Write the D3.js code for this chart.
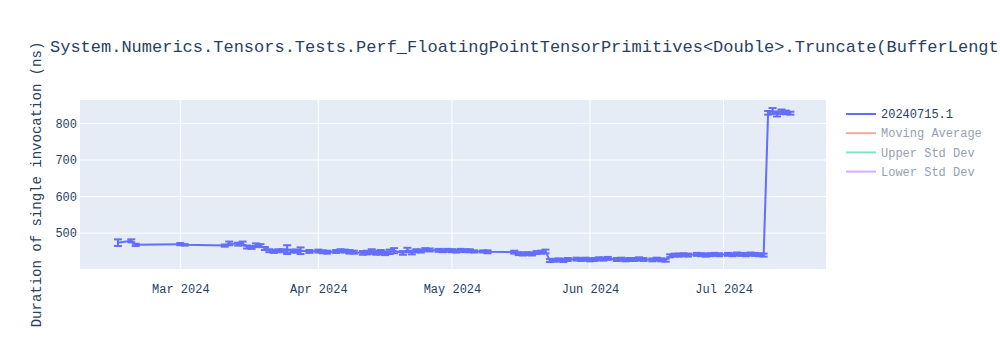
<!DOCTYPE html>
<html>
<head>
<meta charset="utf-8">
<script src="https://cdn.jsdelivr.net/npm/d3@7"></script>
<style>
  body { margin: 0; background: #fff; }
  svg text { font-family: "Courier New", "Liberation Mono", monospace; }
</style>
</head>
<body>
<svg id="chart"></svg>
<script>
"use strict";

// run dates and mean duration (ns), with std dev for the error bars
const dates = [
  "2024-02-16", "2024-02-19", "2024-02-20", "2024-03-01", "2024-03-02", "2024-03-11",
  "2024-03-12", "2024-03-14", "2024-03-15", "2024-03-16", "2024-03-17", "2024-03-18",
  "2024-03-19", "2024-03-20", "2024-03-21", "2024-03-22", "2024-03-23", "2024-03-24",
  "2024-03-25", "2024-03-26", "2024-03-27", "2024-03-28", "2024-03-30", "2024-04-01",
  "2024-04-02", "2024-04-03", "2024-04-05", "2024-04-06", "2024-04-07", "2024-04-08",
  "2024-04-09", "2024-04-11", "2024-04-12", "2024-04-13", "2024-04-14", "2024-04-15",
  "2024-04-16", "2024-04-17", "2024-04-18", "2024-04-20", "2024-04-21", "2024-04-22",
  "2024-04-23", "2024-04-24", "2024-04-25", "2024-04-26", "2024-04-28", "2024-04-29",
  "2024-04-30", "2024-05-01", "2024-05-02", "2024-05-03", "2024-05-04", "2024-05-05",
  "2024-05-06", "2024-05-08", "2024-05-09", "2024-05-15", "2024-05-16", "2024-05-17",
  "2024-05-18", "2024-05-19", "2024-05-20", "2024-05-21", "2024-05-22", "2024-05-23",
  "2024-05-24", "2024-05-25", "2024-05-26", "2024-05-27", "2024-05-29", "2024-05-30",
  "2024-05-31", "2024-06-01", "2024-06-02", "2024-06-03", "2024-06-04", "2024-06-05",
  "2024-06-07", "2024-06-08", "2024-06-09", "2024-06-10", "2024-06-11", "2024-06-12",
  "2024-06-13", "2024-06-15", "2024-06-16", "2024-06-17", "2024-06-18", "2024-06-19",
  "2024-06-20", "2024-06-21", "2024-06-22", "2024-06-23", "2024-06-25", "2024-06-26",
  "2024-06-27", "2024-06-28", "2024-06-29", "2024-06-30", "2024-07-02", "2024-07-03",
  "2024-07-04", "2024-07-05", "2024-07-06", "2024-07-07", "2024-07-08", "2024-07-09",
  "2024-07-10", "2024-07-11", "2024-07-12", "2024-07-13", "2024-07-14", "2024-07-15",
  "2024-07-16"
];
const durations = [
  474, 479, 468, 470, 468, 466,
  472, 470, 472, 462, 461, 467,
  466, 458, 452, 450, 452, 452,
  455, 451, 451, 452, 450, 451,
  449, 448, 450, 452, 451, 449,
  448, 446, 447, 450, 446, 448,
  445, 449, 452, 446, 454, 447,
  452, 451, 455, 454, 453, 452,
  453, 452, 451, 453, 452, 452,
  450, 450, 449, 448, 444, 443,
  444, 443, 447, 448, 450, 425,
  426, 427, 425, 428, 429, 428,
  429, 427, 428, 430, 429, 431,
  428, 429, 427, 428, 428, 430,
  428, 427, 429, 427, 426, 438,
  440, 440, 441, 440, 442, 441,
  440, 441, 442, 441, 442, 441,
  443, 442, 441, 443, 442, 441,
  440, 829, 834, 826, 832, 830,
  828
];
const stdDevs = [
  9, 4, 3, 3, 2, 3,
  5, 4, 5, 4, 4, 5,
  4, 4, 4, 4, 4, 4,
  12, 4, 4, 9, 4, 4,
  4, 4, 4, 4, 4, 5,
  4, 5, 5, 6, 5, 6,
  5, 6, 7, 5, 6, 5,
  4, 4, 4, 4, 4, 4,
  4, 4, 4, 4, 4, 4,
  3, 3, 4, 4, 4, 4,
  4, 4, 4, 4, 5, 4,
  4, 4, 4, 4, 4, 4,
  4, 4, 4, 4, 4, 4,
  4, 4, 4, 4, 4, 4,
  4, 4, 4, 4, 4, 4,
  4, 4, 4, 4, 4, 4,
  4, 4, 4, 4, 4, 4,
  4, 4, 4, 4, 4, 4,
  4, 5, 8, 7, 6, 5,
  4
];
const yTicks = [500, 600, 700, 800];
const legendNames = ["20240715.1", "Moving Average", "Upper Std Dev", "Lower Std Dev"];
const legendColors = ["#636efa", "#EF553B", "#00cc96", "#ab63fa"];
const legendVisible = [true, false, false, false];

const titleText =
  "System.Numerics.Tensors.Tests.Perf_FloatingPointTensorPrimitives<Double>.Truncate(BufferLength: 128)";

const parse = d3.utcParse("%Y-%m-%d");
const data = dates.map((d, i) => ({
  date: parse(d),
  value: durations[i],
  err: stdDevs[i],
}));

const width = 1000;
const height = 350;
const margin = { top: 100, right: 174, bottom: 81, left: 80 };
const innerW = width - margin.left - margin.right;
const innerH = height - margin.top - margin.bottom;

const x = d3
  .scaleUtc()
  .domain([new Date(Date.UTC(2024, 1, 7, 11, 30)), new Date(Date.UTC(2024, 6, 24))])
  .range([0, innerW]);

const y = d3.scaleLinear().domain([402, 864]).range([innerH, 0]);

const svg = d3
  .select("#chart")
  .attr("width", width)
  .attr("height", height)
  .attr("viewBox", [0, 0, width, height]);

svg
  .append("text")
  .attr("x", 50)
  .attr("y", 46)
  .attr("dy", "0.35em")
  .attr("font-size", 17)
  .attr("fill", "#2a3f5f")
  .text(titleText);

const main = svg
  .append("g")
  .attr("transform", `translate(${margin.left},${margin.top})`);

main
  .append("rect")
  .attr("width", innerW)
  .attr("height", innerH)
  .attr("fill", "#E5ECF6");

svg
  .append("defs")
  .append("clipPath")
  .attr("id", "clip")
  .append("rect")
  .attr("width", innerW)
  .attr("height", innerH);

// grid lines
const xTicks = x.ticks(d3.utcMonth.every(1));
main
  .append("g")
  .selectAll("line")
  .data(xTicks)
  .join("line")
  .attr("x1", (d) => x(d))
  .attr("x2", (d) => x(d))
  .attr("y1", 0)
  .attr("y2", innerH)
  .attr("stroke", "#fff")
  .attr("stroke-width", 1);

main
  .append("g")
  .selectAll("line")
  .data(yTicks)
  .join("line")
  .attr("x1", 0)
  .attr("x2", innerW)
  .attr("y1", (d) => y(d))
  .attr("y2", (d) => y(d))
  .attr("stroke", "#fff")
  .attr("stroke-width", 1);

// axes
const xAxis = main
  .append("g")
  .attr("transform", `translate(0,${innerH})`)
  .call(
    d3.axisBottom(x).tickValues(xTicks).tickFormat(d3.utcFormat("%b %Y")).tickSize(0).tickPadding(15)
  );
xAxis.select(".domain").remove();
xAxis.selectAll("text").attr("font-size", 12).attr("fill", "#2a3f5f").attr("font-family", null);

const yAxis = main
  .append("g")
  .call(d3.axisLeft(y).tickValues(yTicks).tickSize(0).tickPadding(3));
yAxis.select(".domain").remove();
yAxis.selectAll("text").attr("font-size", 12).attr("fill", "#2a3f5f").attr("font-family", null);

svg
  .append("text")
  .attr("transform", `translate(36,${margin.top + innerH / 2}) rotate(-90)`)
  .attr("text-anchor", "middle")
  .attr("dy", "0.35em")
  .attr("font-size", 14)
  .attr("fill", "#2a3f5f")
  .text("Duration of single invocation (ns)");

// series
const plot = main.append("g").attr("clip-path", "url(#clip)");
const color = legendColors[0];

const errs = plot.append("g").attr("stroke", color).attr("stroke-width", 2);
errs
  .selectAll("line.bar")
  .data(data)
  .join("line")
  .attr("class", "bar")
  .attr("x1", (d) => x(d.date))
  .attr("x2", (d) => x(d.date))
  .attr("y1", (d) => y(d.value - d.err))
  .attr("y2", (d) => y(d.value + d.err));
errs
  .selectAll("line.top")
  .data(data)
  .join("line")
  .attr("class", "top")
  .attr("x1", (d) => x(d.date) - 4)
  .attr("x2", (d) => x(d.date) + 4)
  .attr("y1", (d) => y(d.value + d.err))
  .attr("y2", (d) => y(d.value + d.err));
errs
  .selectAll("line.bottom")
  .data(data)
  .join("line")
  .attr("class", "bottom")
  .attr("x1", (d) => x(d.date) - 4)
  .attr("x2", (d) => x(d.date) + 4)
  .attr("y1", (d) => y(d.value - d.err))
  .attr("y2", (d) => y(d.value - d.err));

plot
  .append("path")
  .datum(data)
  .attr("fill", "none")
  .attr("stroke", color)
  .attr("stroke-width", 2)
  .attr("stroke-linejoin", "round")
  .attr("d", d3.line().x((d) => x(d.date)).y((d) => y(d.value)));

// legend
const legend = svg.append("g").attr("transform", "translate(846,114)");
const items = legend
  .selectAll("g")
  .data(legendNames)
  .join("g")
  .attr("transform", (d, i) => `translate(0,${i * 19.2})`)
  .attr("opacity", (d, i) => (legendVisible[i] ? 1 : 0.5));
items
  .append("line")
  .attr("x1", 0)
  .attr("x2", 30)
  .attr("stroke", (d, i) => legendColors[i])
  .attr("stroke-width", 2);
items
  .append("text")
  .attr("x", 35)
  .attr("dy", "0.35em")
  .attr("font-size", 12)
  .attr("fill", "#2a3f5f")
  .text((d) => d);
</script>
</body>
</html>
